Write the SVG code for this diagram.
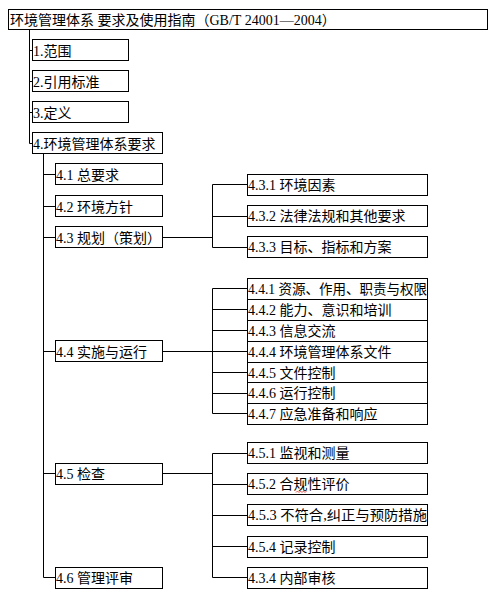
<svg xmlns="http://www.w3.org/2000/svg" width="493" height="593" viewBox="0 0 493 593">
<style>
rect{fill:#fff;stroke:#000;stroke-width:1}
text{font-family:"Liberation Serif","Noto Sans CJK SC",serif;font-size:14px;fill:#000}
.c path{fill:none;stroke:#000;stroke-width:1}
</style>
<rect x="0" y="0" width="493" height="593" style="stroke:none"/>
<g class="c" id="connectors">
<path d="M29.5 29.5V143.5M29.5 50.5H32.5M29.5 81.5H32.5M29.5 112.5H32.5M29.5 143.5H32.5"/>
<path d="M43.5 153.5V577.5M43.5 174.5H55.5M43.5 206.5H55.5M43.5 237.5H55.5M43.5 351.5H55.5M43.5 473.5H55.5M43.5 577.5H55.5"/>
<path d="M162.5 237.5H212.5M212.5 184.5V247.5M212.5 184.5H247.5M212.5 216.5H247.5M212.5 247.5H247.5"/>
<path d="M162.5 351.5H212.5M212.5 288.5V413.5M212.5 288.5H247.5M212.5 309.5H247.5M212.5 330.5H247.5M212.5 351.5H247.5M212.5 372.5H247.5M212.5 393.5H247.5M212.5 413.5H247.5"/>
<path d="M162.5 473.5H212.5M212.5 453.5V577.5M212.5 453.5H247.5M212.5 484.5H247.5M212.5 515.5H247.5M212.5 546.5H247.5M212.5 577.5H247.5"/>
</g>
<g id="root"><rect x="8.5" y="9.5" width="479" height="20"/><text x="10" y="25">环境管理体系 要求及使用指南（GB/T 24001—2004）</text></g>
<g id="n1"><rect x="32.5" y="39.5" width="96" height="21"/><text x="33" y="56">1.范围</text></g>
<g id="n2"><rect x="32.5" y="70.5" width="96" height="21"/><text x="33" y="87">2.引用标准</text></g>
<g id="n3"><rect x="32.5" y="101.5" width="96" height="21"/><text x="33" y="118">3.定义</text></g>
<g id="n4"><rect x="32.5" y="132.5" width="130" height="21"/><text x="33" y="149">4.环境管理体系要求</text></g>
<g id="n41"><rect x="55.5" y="163.5" width="107" height="21"/><text x="56" y="180">4.1 总要求</text></g>
<g id="n42"><rect x="55.5" y="195.5" width="107" height="21"/><text x="56" y="212">4.2 环境方针</text></g>
<g id="n43"><rect x="55.5" y="226.5" width="107" height="21"/><text x="56" y="243">4.3 规划（策划）</text></g>
<g id="n44"><rect x="55.5" y="340.5" width="107" height="21"/><text x="56" y="357">4.4 实施与运行</text></g>
<g id="n45"><rect x="55.5" y="463.5" width="107" height="21"/><text x="56" y="479">4.5 检查</text></g>
<g id="n46"><rect x="55.5" y="567.5" width="107" height="21"/><text x="56" y="583">4.6 管理评审</text></g>
<g id="n431"><rect x="247.5" y="174.5" width="180" height="21"/><text x="248" y="190">4.3.1 环境因素</text></g>
<g id="n432"><rect x="247.5" y="205.5" width="180" height="21"/><text x="248" y="221">4.3.2 法律法规和其他要求</text></g>
<g id="n433"><rect x="247.5" y="236.5" width="180" height="21"/><text x="248" y="252">4.3.3 目标、指标和方案</text></g>
<g id="n441"><rect x="247.5" y="278.5" width="180" height="21"/><text x="248" y="294" textLength="179" lengthAdjust="spacingAndGlyphs">4.4.1 资源、作用、职责与权限</text></g>
<g id="n442"><rect x="247.5" y="299.5" width="180" height="21"/><text x="248" y="315">4.4.2 能力、意识和培训</text></g>
<g id="n443"><rect x="247.5" y="320.5" width="180" height="21"/><text x="248" y="336">4.4.3 信息交流</text></g>
<g id="n444"><rect x="247.5" y="341.5" width="180" height="21"/><text x="248" y="357">4.4.4 环境管理体系文件</text></g>
<g id="n445"><rect x="247.5" y="362.5" width="180" height="20"/><text x="248" y="378">4.4.5 文件控制</text></g>
<g id="n446"><rect x="247.5" y="382.5" width="180" height="21"/><text x="248" y="398">4.4.6 运行控制</text></g>
<g id="n447"><rect x="247.5" y="403.5" width="180" height="21"/><text x="248" y="419">4.4.7 应急准备和响应</text></g>
<g id="n451"><rect x="247.5" y="442.5" width="180" height="21"/><text x="248" y="458">4.5.1 监视和测量</text></g>
<g id="n452"><rect x="247.5" y="473.5" width="180" height="21"/><text x="248" y="489">4.5.2 合规性评价</text><path d="M296 492.5l1.5-1.5 1.5 1.5 1.5-1.5 1.5 1.5 1.5-1.5 1.5 1.5 1.5-1.5" fill="none" stroke="#e03030" stroke-width="0.8"/></g>
<g id="n453"><rect x="247.5" y="504.5" width="180" height="21"/><text x="248" y="520" textLength="179" lengthAdjust="spacingAndGlyphs">4.5.3 不符合,纠正与预防措施</text></g>
<g id="n454"><rect x="247.5" y="536.5" width="180" height="21"/><text x="248" y="552">4.5.4 记录控制</text></g>
<g id="n434"><rect x="247.5" y="567.5" width="180" height="21"/><text x="248" y="583">4.3.4 内部审核</text></g>
</svg>
